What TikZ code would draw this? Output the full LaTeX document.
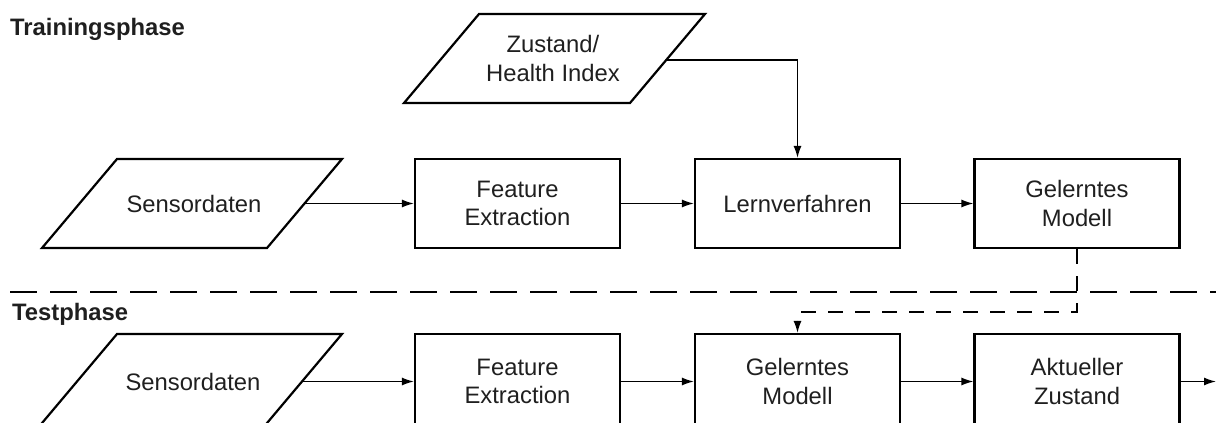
\documentclass[tikz,border=0pt]{standalone}
\usepackage{fontspec}
\setmainfont{Liberation Sans}
\usetikzlibrary{arrows.meta}
\begin{document}
\begin{tikzpicture}[x=1pt,y=-1pt,
  every node/.style={font=\fontsize{23.8}{28.3}\selectfont, align=center, text=black!88},
  proc/.style={draw, line width=2.2pt, minimum width=205pt, minimum height=89pt, inner sep=0pt},
  proclow/.style={proc, minimum height=95pt},
  lbl/.style={font=\fontsize{23.8}{28}\selectfont\bfseries, anchor=base west, inner sep=0pt},
  para/.style={line width=2.2pt, line join=miter},
  conn/.style={line width=1.4pt, -{Latex[length=12pt,width=8pt]}},
  sep/.style={line width=2.2pt, dash pattern=on 27pt off 13pt},
  dconn/.style={conn, dash pattern=on 15pt off 12pt}]
\useasboundingbox (0,0) rectangle (1216,423);

% labels
\node[lbl] (tr) at (10,35) {Trainingsphase};
\node[lbl] (te) at (12,320) {Testphase};

% training row
\node (sens1) at (194,203.5) {Sensordaten};
\draw[para] (sens1.center) ++(-77,-44.5) -- ++(225,0) -- ++(-75,89) -- ++(-225,0) -- cycle;
\path (sens1.center) ++(110.5,0) coordinate (sens1e);

\node (zu) at (553,58.5) {Zustand/\\Health Index};
\draw[para] (zu.center) ++(-74,-44.5) -- ++(226,0) -- ++(-75,89) -- ++(-226,0) -- cycle;
\path (zu.center) ++(113,1.5) coordinate (zue);

\node[proc] (fe1) at (517.5,203.5) {Feature\\Extraction};
\node[proc] (lv) at (797.5,203.5) {Lernverfahren};
\node[proc] (gm1) at (1077,203.5) {Gelerntes\\Modell};

% separator
\coordinate (sepL) at (10,292);
\coordinate (sepR) at (1216,292);
\draw[sep] (sepL) -- (sepR);

% test row
\node (sens2) at (193,381.5) {Sensordaten};
\draw[para] (sens2.center) ++(-76,-47.5) -- ++(225,0) -- ++(-80,95) -- ++(-225,0) -- cycle;
\path (sens2.center) ++(109,0) coordinate (sens2e);

\node[proclow] (fe2) at (517.5,381.5) {Feature\\Extraction};
\node[proclow] (gm2) at (797.5,381.5) {Gelerntes\\Modell};
\node[proclow] (az) at (1077,381.5) {Aktueller\\Zustand};
\coordinate (out) at (1216,381.5);

% connectors
\draw[conn] (sens1e) -- (fe1.west);
\draw[conn] (fe1.east) -- (lv.west);
\draw[conn] (lv.east) -- (gm1.west);
\draw[conn] (zue) -| (lv.north);
\coordinate (bend) at (1077,312);
\draw[dconn] (gm1.south) -- (bend) -| (gm2.north);
\draw[conn] (sens2e) -- (fe2.west);
\draw[conn] (fe2.east) -- (gm2.west);
\draw[conn] (gm2.east) -- (az.west);
\draw[conn] (az.east) -- (out);
\end{tikzpicture}
\end{document}
